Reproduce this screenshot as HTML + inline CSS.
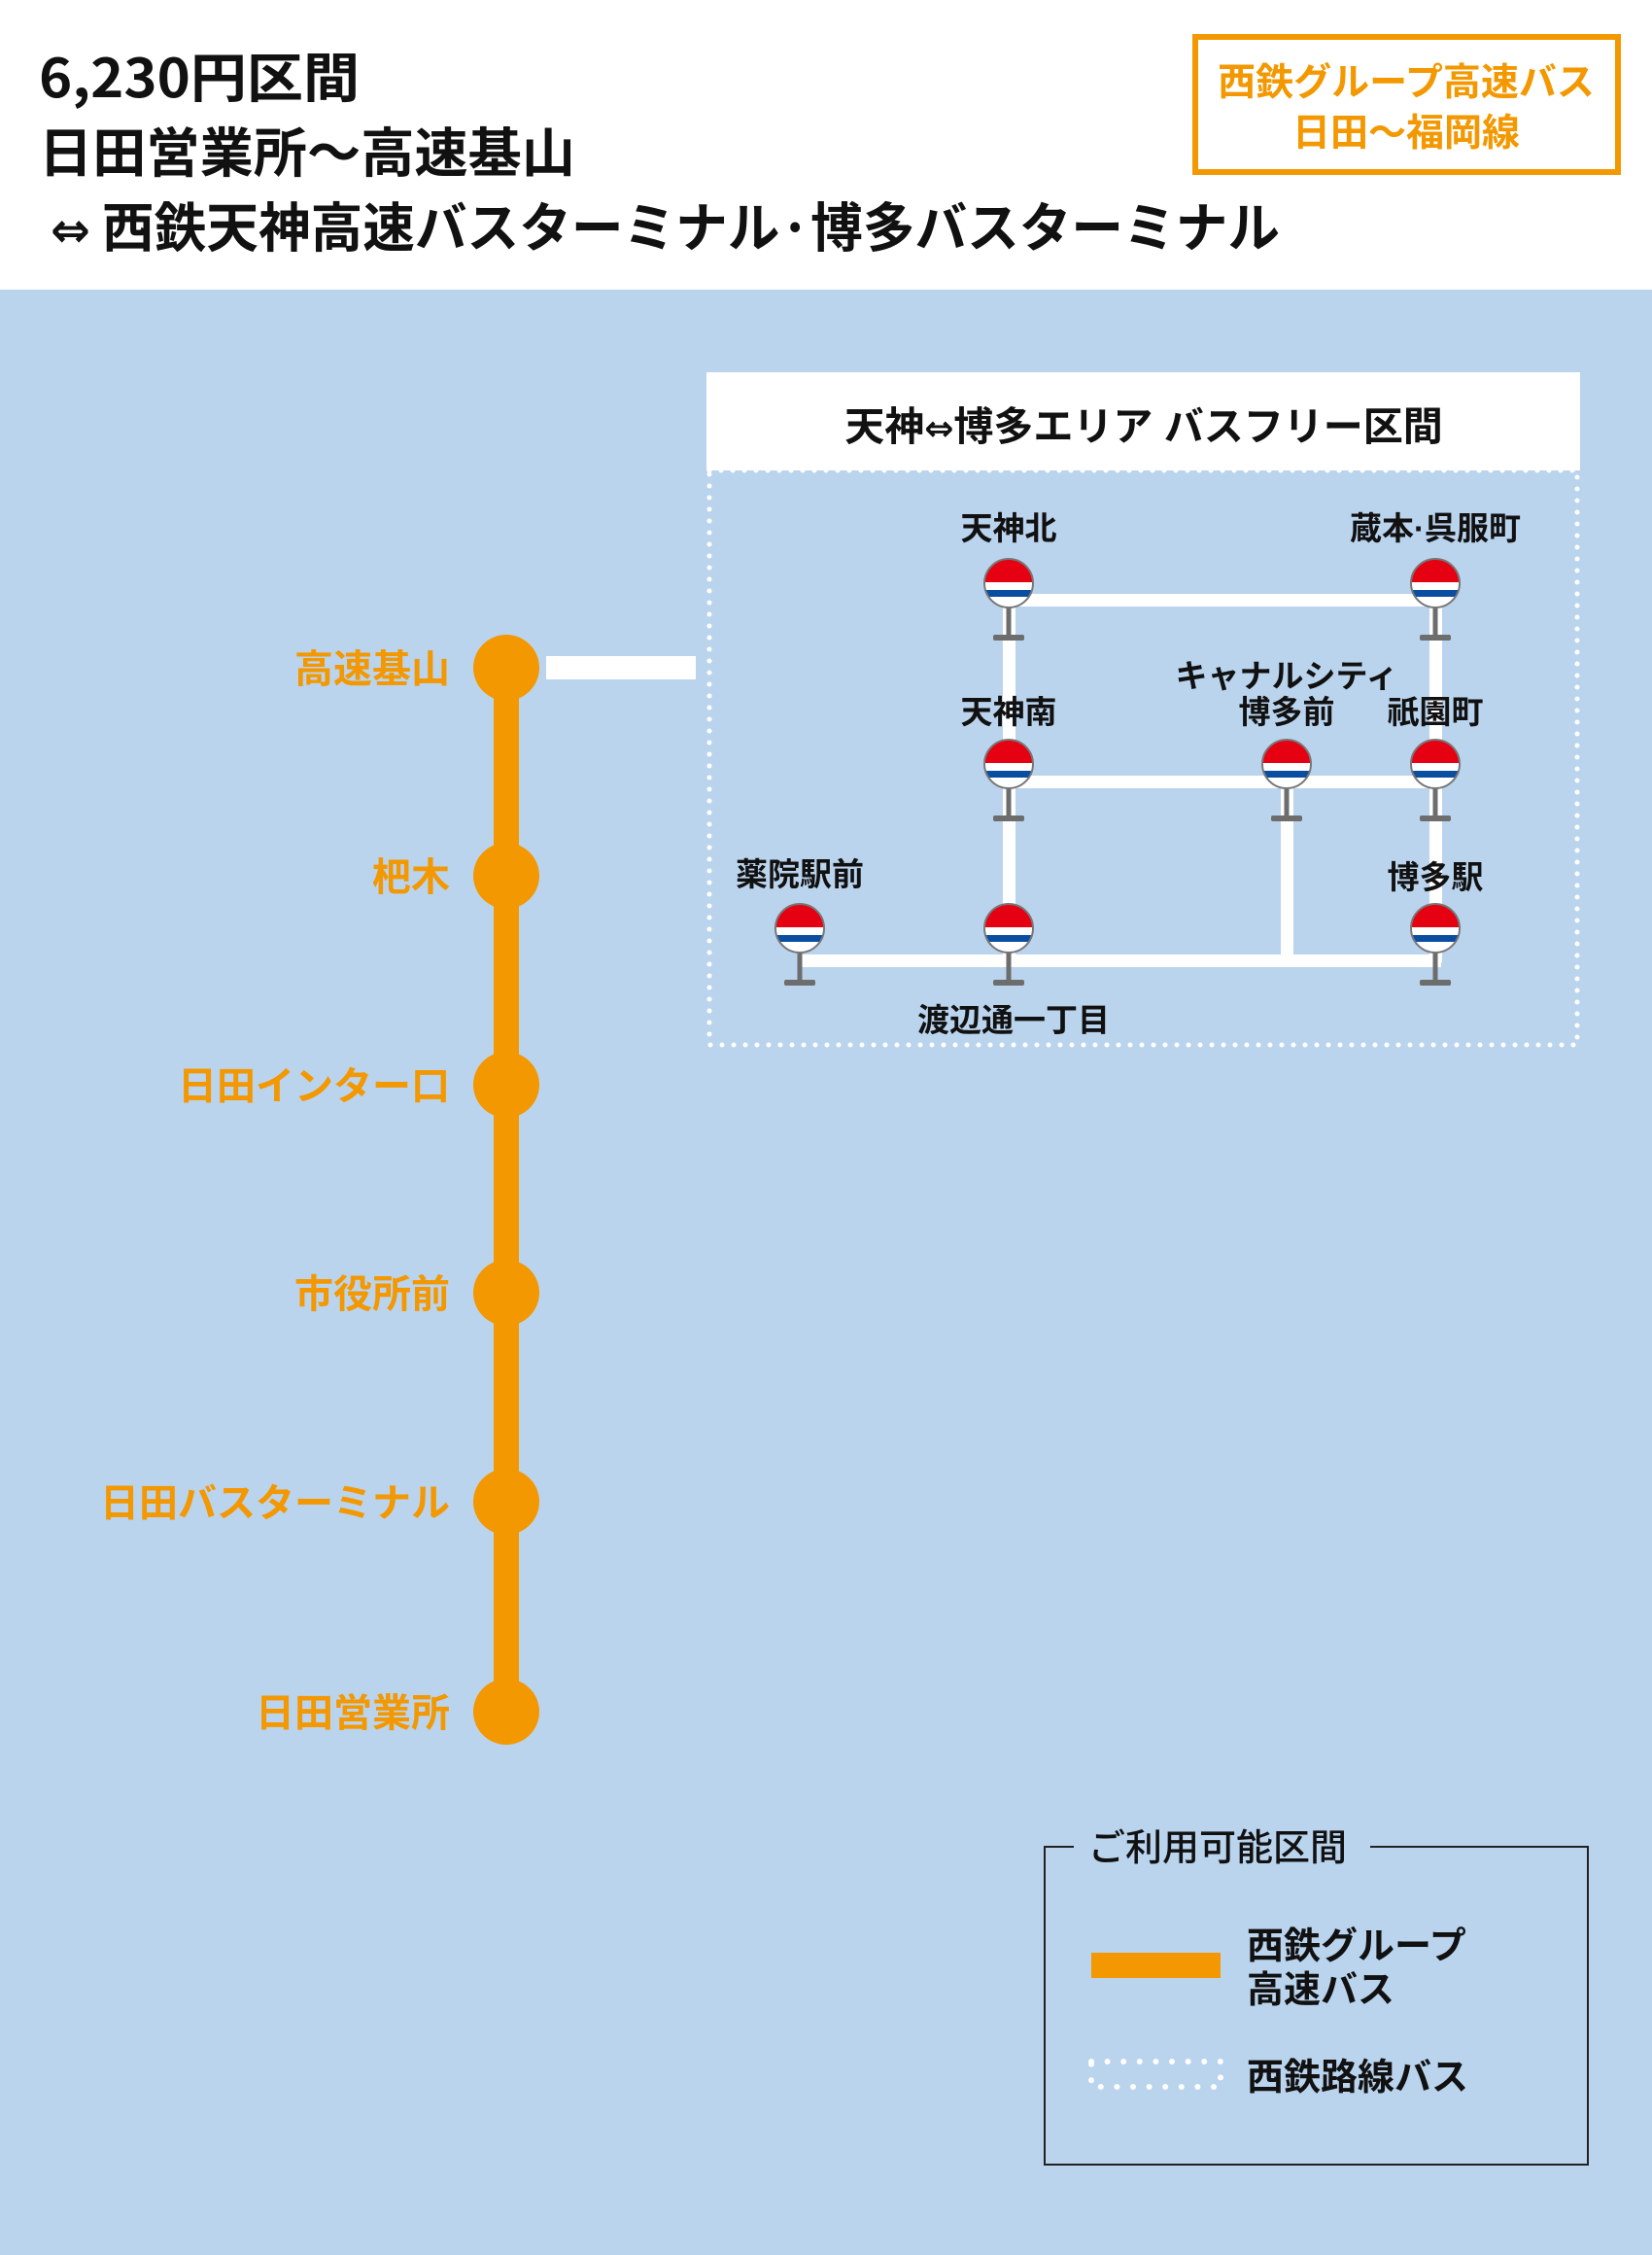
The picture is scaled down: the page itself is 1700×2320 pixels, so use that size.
<!DOCTYPE html>
<html><head><meta charset="utf-8"><style>
html,body{margin:0;padding:0;width:1700px;height:2320px;overflow:hidden;background:#bad4ee}
svg{display:block}
text{font-family:"Liberation Sans","Noto Sans CJK JP",sans-serif;font-weight:bold}
.n{font-family:"Noto Sans CJK JP","Liberation Sans",sans-serif}
.ar{font-family:"DejaVu Sans",sans-serif}
</style></head><body>
<svg width="1700" height="2320" viewBox="0 0 1700 2320" xmlns="http://www.w3.org/2000/svg">
<defs>
<g id="stop">
<rect x="-2.5" y="0" width="5" height="56" fill="#6d6d6d"/>
<rect x="-16" y="53" width="32" height="6" rx="2" fill="#6d6d6d"/>
<clipPath id="cc"><circle cx="0" cy="0" r="25"/></clipPath>
<g clip-path="url(#cc)">
<rect x="-30" y="-30" width="60" height="60" fill="#fff"/>
<rect x="-30" y="-30" width="60" height="29" fill="#e50012"/>
<rect x="-30" y="7" width="60" height="7" fill="#0a4ea2"/>
</g>
<circle cx="0" cy="0" r="25" fill="none" stroke="#777" stroke-width="2"/>
</g>
</defs>
<rect x="0" y="0" width="1700" height="298" fill="#fff"/>
<g font-size="55" fill="#111" class="n">
<text x="40" y="100" class="n" textLength="330" lengthAdjust="spacingAndGlyphs">6,230円区間</text>
<text x="40" y="177" class="n" textLength="552" lengthAdjust="spacingAndGlyphs">日田営業所～高速基山</text>
<text x="52" y="254" class="n" textLength="1265" lengthAdjust="spacingAndGlyphs"><tspan class="ar" font-size="50">⇔</tspan> 西鉄天神高速バスターミナル·博多バスターミナル</text>
</g>
<rect x="1230" y="38" width="435" height="139" fill="#fff" stroke="#f39800" stroke-width="6"/>
<g font-size="39" fill="#f39800" text-anchor="middle">
<text x="1447" y="98">西鉄グループ高速バス</text>
<text x="1447" y="150">日田～福岡線</text>
</g>
<rect x="508" y="687" width="26" height="1074" fill="#f39800"/>
<rect x="562" y="675" width="154" height="24" fill="#fff"/>
<g fill="#f39800">
<circle cx="521" cy="687" r="34"/><circle cx="521" cy="901" r="34"/><circle cx="521" cy="1116" r="34"/>
<circle cx="521" cy="1330" r="34"/><circle cx="521" cy="1545" r="34"/><circle cx="521" cy="1761" r="34"/>
</g>
<g font-size="40" fill="#f39800" text-anchor="end">
<text x="463" y="702">高速基山</text>
<text x="463" y="916">杷木</text>
<text x="463" y="1131">日田インター口</text>
<text x="463" y="1345">市役所前</text>
<text x="463" y="1560">日田バスターミナル</text>
<text x="463" y="1776">日田営業所</text>
</g>
<rect x="730" y="484" width="893" height="591" fill="none" stroke="#fff" stroke-width="5" stroke-dasharray="0 12" stroke-linecap="round"/>
<rect x="727" y="383" width="899" height="101" fill="#fff"/>
<text x="1177" y="453" font-size="41" fill="#111" text-anchor="middle">天神<tspan class="ar" font-size="36">⇔</tspan>博多エリア バスフリー区間</text>
<g fill="#fff">
<rect x="1038" y="611" width="439" height="13"/>
<rect x="1038" y="798" width="439" height="13"/>
<rect x="823" y="982" width="660" height="13"/>
<rect x="1032" y="600" width="13" height="390"/>
<rect x="1471" y="600" width="13" height="390"/>
<rect x="1318" y="798" width="13" height="190"/>
</g>
<use href="#stop" x="1038" y="600"/>
<use href="#stop" x="1477" y="600"/>
<use href="#stop" x="1038" y="786"/>
<use href="#stop" x="1324" y="786"/>
<use href="#stop" x="1477" y="786"/>
<use href="#stop" x="823" y="955"/>
<use href="#stop" x="1038" y="955"/>
<use href="#stop" x="1477" y="955"/>
<g font-size="33" fill="#111" text-anchor="middle">
<text x="1038" y="555">天神北</text>
<text x="1477" y="555">蔵本·呉服町</text>
<text x="1038" y="744">天神南</text>
<text x="1324" y="707">キャナルシティ</text>
<text x="1324" y="744">博多前</text>
<text x="1477" y="744">祇園町</text>
<text x="823" y="911">薬院駅前</text>
<text x="1477" y="914">博多駅</text>
<text x="1043" y="1061">渡辺通一丁目</text>
</g>
<rect x="1075" y="1900" width="559" height="327" fill="none" stroke="#222" stroke-width="2"/>
<rect x="1105" y="1880" width="305" height="40" fill="#bad4ee"/>
<g font-size="38" fill="#111">
<text x="1120" y="1914" style="font-weight:500">ご利用可能区間</text>
<text x="1283" y="2015">西鉄グループ</text>
<text x="1283" y="2060">高速バス</text>
<text x="1283" y="2150">西鉄路線バス</text>
</g>
<rect x="1123" y="2009" width="133" height="26" fill="#f39800"/>
<rect x="1123" y="2121" width="133" height="26" fill="none" stroke="#fff" stroke-width="6" stroke-dasharray="0 16.6" stroke-linecap="round"/>
</svg>
</body></html>
